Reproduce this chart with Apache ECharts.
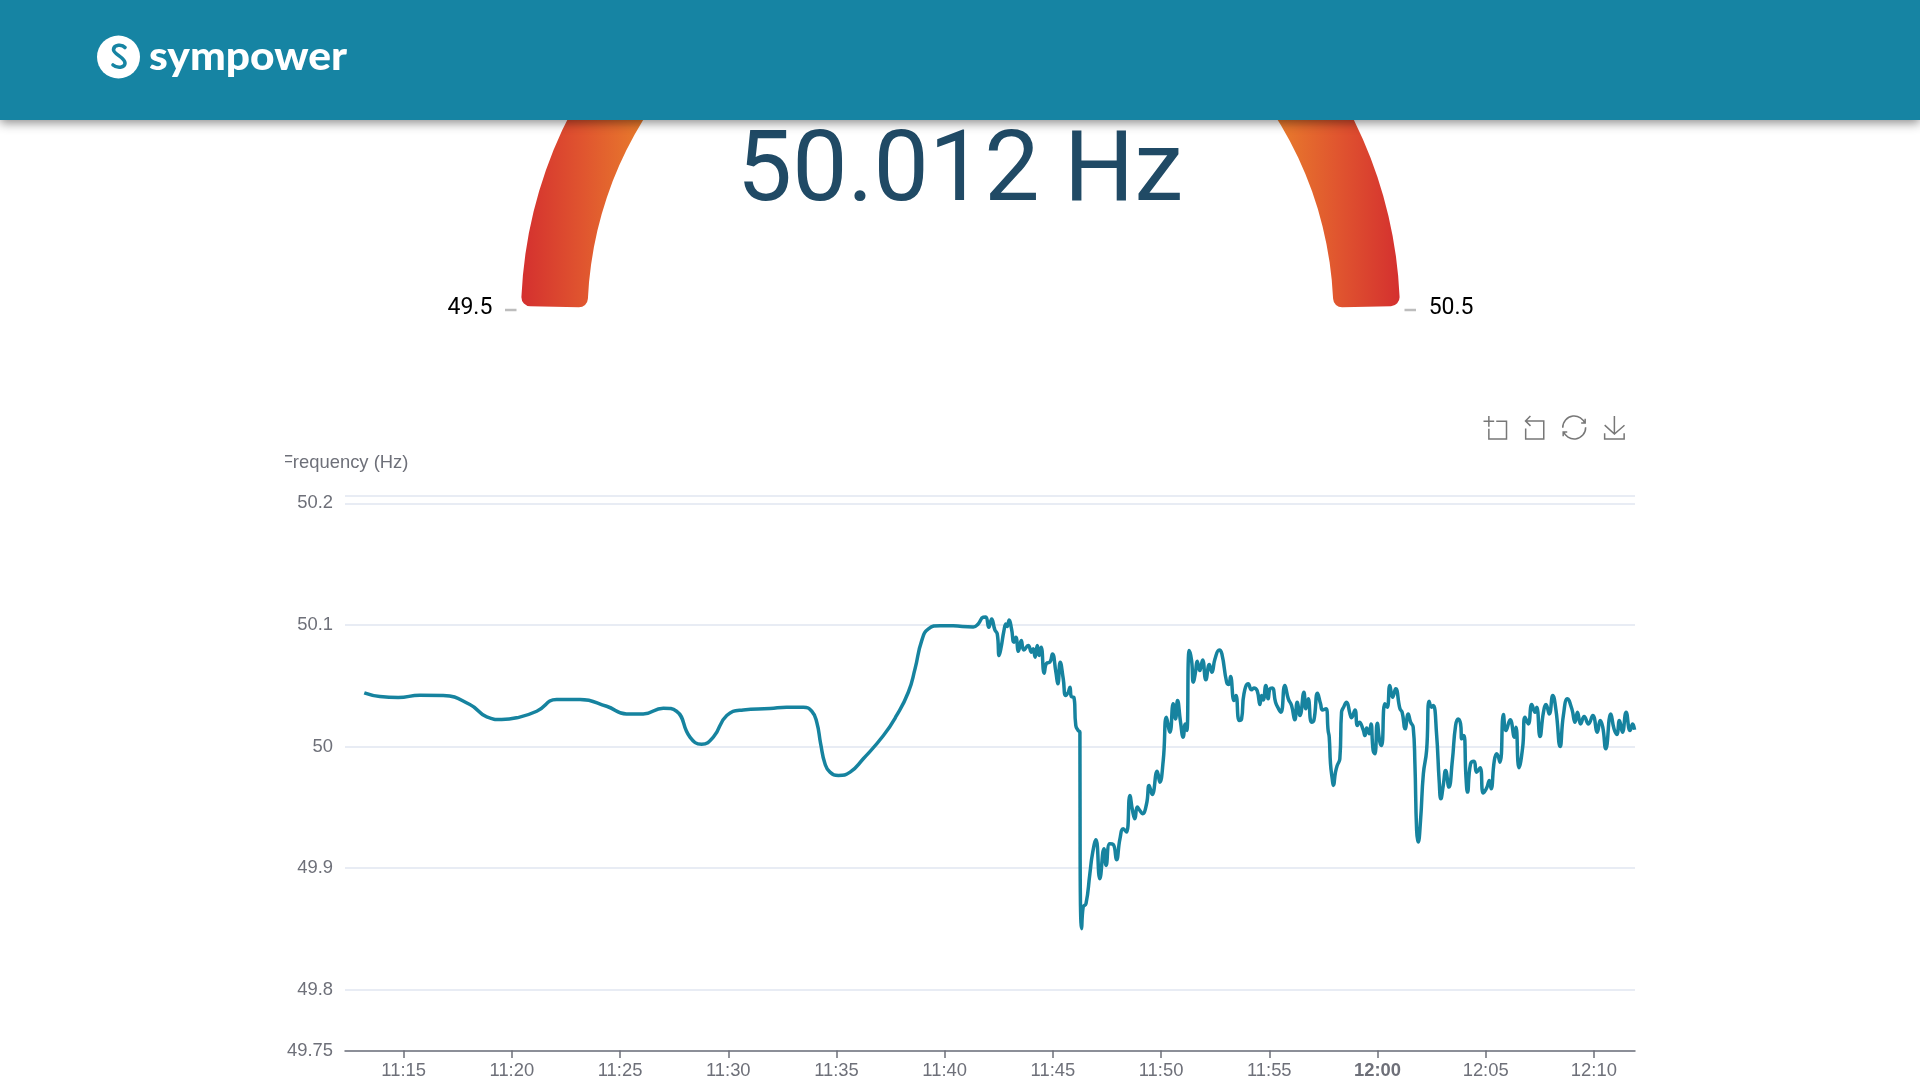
<!DOCTYPE html>
<html>
<head>
<meta charset="utf-8">
<title>sympower frequency</title>
<script src="https://cdn.jsdelivr.net/npm/echarts@6/dist/echarts.min.js"></script>
<style>
html,body{margin:0;padding:0;width:1920px;height:1080px;background:#fff;overflow:hidden}
#header{position:absolute;left:0;top:0;width:1920px;height:120px;background:#1684a3;box-shadow:0 3px 10px rgba(0,0,0,.45);z-index:5}
#logo{position:absolute;left:90px;top:30px}
#gauge{position:absolute;left:0;top:0;width:1920px;height:400px}
#line{position:absolute;left:285px;top:400px;width:1370px;height:680px}
</style>
</head>
<body>
<div id="header">
<svg id="logo" width="280" height="60" viewBox="0 0 280 60">
<circle cx="28.5" cy="27" r="21.5" fill="#fff"/>
<path d="M35 17.5c-3-3.500-11-3-11.500 2 -.4 4.500 11.500 8 11.500 13.500 0 5-8 5.500-12 2" fill="none" stroke="#1684a3" stroke-width="3.600" stroke-linecap="round"/>
<text x="59" y="39.500" font-family="Lato" font-weight="900" font-size="40" fill="#fff" textLength="198" lengthAdjust="spacingAndGlyphs">sympower</text>
</svg>
</div>
<div id="gauge"></div>
<div id="line"></div>
<script>
const currentFrequency = 50.012;
const gaugeMin = 49.5;
const gaugeMax = 50.5;

// minutes after 11:00
const minutes = [
13.18,13.90,14.75,15.75,16.83,18.06,18.84,19.53,20.22,21.15,22.07,23.15,24.38,25.30,26.07,27.00,27.61,28.23,28.77,29.31,29.93,30.69,
31.93,32.70,33.47,33.86,34.09,34.27,34.47,34.70,35.09,35.63,36.24,37.17,37.78,38.32,38.63,38.94,39.25,39.79,
40.39,41.32,41.55,41.78,41.90,42.04,42.17,42.32,42.43,42.52,42.61,42.74,42.83,42.89,42.98,43.09,43.20,43.29,43.41,43.54,43.66,43.86,44.01,44.09,44.18,44.28,44.37,44.46,44.60,44.71,44.86,44.98,45.14,45.23,45.34,45.48,45.59,45.71,45.79,45.85,45.97,46.06,46.17,46.25,46.26,46.33,46.40,46.53,46.71,46.83,46.99,47.17,47.36,47.46,47.63,47.79,47.94,48.10,48.25,48.40,48.56,48.68,48.79,48.90,49.02,49.14,49.33,49.45,49.59,49.82,49.94,50.10,50.25,50.41,50.56,50.67,50.76,50.90,51.02,51.12,51.19,
51.30,51.41,51.49,51.59,51.67,51.79,51.92,52.07,52.23,52.35,52.49,52.69,52.81,53.03,53.13,53.21,53.37,53.46,53.61,53.72,53.83,54.03,54.18,54.29,54.44,54.57,54.64,54.72,54.84,54.95,55.03,55.14,55.29,55.43,55.54,55.72,55.88,56.03,56.18,56.29,56.42,56.60,56.69,56.80,56.95,57.06,57.23,57.37,57.46,57.62,57.72,
57.77,57.83,57.91,57.96,58.06,58.14,58.26,58.34,58.42,58.57,58.73,58.80,58.96,59.07,59.16,59.34,59.42,59.50,59.62,59.70,59.80,59.88,59.99,60.11,60.19,60.34,60.45,60.57,60.70,60.84,61.04,61.14,61.28,61.42,61.53,61.65,61.73,61.81,61.88,61.99,62.12,62.27,62.39,62.50,62.58,62.73,62.85,62.93,63.04,63.15,63.30,63.46,63.61,63.73,63.84,63.90,63.99,64.09,64.16,64.30,64.46,64.58,
64.74,64.89,65.05,65.17,65.25,65.40,65.51,65.66,65.82,65.94,66.13,66.33,66.40,66.54,66.71,66.82,66.97,67.13,67.28,67.36,67.51,67.67,67.79,67.94,68.10,68.25,68.44,68.59,68.78,68.98,69.13,69.24,69.39,69.55,69.75,69.95,70.16,70.29,70.41,70.55,70.78,70.93,71.06,71.18,71.32,71.49,71.67,71.79,71.88
];

const frequency = [
50.0441,50.0411,50.0403,50.0422,50.0419,50.0345,50.0244,50.0222,50.0236,50.0290,50.0386,50.0386,50.0331,50.0268,50.0268,50.0315,50.0290,50.0077,50.0019,50.0077,50.0255,50.0301,
50.0312,50.0323,50.0323,50.0290,50.0200,50.0022,49.9858,49.9789,49.9762,49.9789,49.9899,50.0090,50.0255,50.0446,50.0638,50.0871,50.0967,50.0994,
50.0992,50.0983,50.1008,50.1063,50.1065,50.0981,50.1049,50.0959,50.0926,50.0748,50.0816,50.0953,50.1008,50.0986,50.1041,50.0967,50.0857,50.0898,50.0783,50.0871,50.0794,50.0830,50.0775,50.0803,50.0734,50.0830,50.0748,50.0816,50.0603,50.0685,50.0693,50.0761,50.0611,50.0515,50.0693,50.0556,50.0419,50.0446,50.0488,50.0411,50.0405,50.0173,50.0131,50.0118,49.9091,49.8502,49.8680,49.8707,49.8954,49.9118,49.9233,49.8913,49.9159,49.9022,49.9200,49.9195,49.9069,49.9241,49.9323,49.9296,49.9597,49.9474,49.9406,49.9502,49.9474,49.9447,49.9529,49.9680,49.9606,49.9797,49.9707,49.9885,50.0241,50.0118,50.0351,50.0227,50.0378,50.0200,50.0077,50.0186,50.0131,
50.0789,50.0707,50.0529,50.0611,50.0701,50.0624,50.0712,50.0548,50.0674,50.0611,50.0720,50.0794,50.0761,50.0529,50.0509,50.0575,50.0378,50.0419,50.0214,50.0227,50.0433,50.0515,50.0466,50.0482,50.0460,50.0345,50.0419,50.0383,50.0501,50.0392,50.0474,50.0482,50.0364,50.0310,50.0282,50.0501,50.0392,50.0337,50.0219,50.0364,50.0255,50.0446,50.0310,50.0392,50.0200,50.0214,50.0438,50.0351,50.0301,50.0310,50.0131,
50.0077,49.9858,49.9734,49.9680,49.9789,49.9844,49.9899,50.0282,50.0318,50.0364,50.0268,50.0236,50.0301,50.0173,50.0200,50.0137,50.0090,50.0153,50.0104,50.0186,49.9967,49.9940,50.0192,50.0036,50.0008,50.0351,50.0323,50.0501,50.0405,50.0474,50.0310,50.0282,50.0145,50.0268,50.0200,50.0159,49.9858,49.9310,49.9214,49.9392,49.9775,49.9967,50.0373,50.0323,50.0337,50.0104,49.9721,49.9570,49.9680,49.9803,49.9666,49.9885,50.0173,50.0227,50.0186,50.0063,50.0090,49.9748,49.9625,49.9858,49.9879,49.9789,
49.9825,49.9617,49.9660,49.9721,49.9652,49.9885,49.9940,49.9871,50.0263,50.0131,50.0219,50.0077,50.0159,49.9825,49.9995,50.0241,50.0186,50.0345,50.0282,50.0323,50.0082,50.0282,50.0345,50.0268,50.0419,50.0296,50.0000,50.0255,50.0392,50.0310,50.0200,50.0282,50.0186,50.0247,50.0186,50.0255,50.0118,50.0214,50.0159,49.9981,50.0268,50.0145,50.0099,50.0214,50.0118,50.0282,50.0131,50.0186,50.0137
];

const yMin = 49.75;
const yMax = 50.206;
const xStartMinute = 12.29;
const xEndMinute = 71.9;

const base = new Date(2023, 0, 1, 11, 0, 0).getTime();
const toTime = m => base + m * 60000;
const seriesData = minutes.map((m, i) => [toTime(m), frequency[i]]);

const gaugeChart = echarts.init(document.getElementById('gauge'));
gaugeChart.setOption({
  animation: false,
  series: [
    {
      type: 'pie', silent: true, center: [960.5, 316], radius: [373, 439.5],
      startAngle: 178.7, clockwise: true, label: {show: false}, labelLine: {show: false},
      itemStyle: {borderRadius: 9},
      emphasis: {disabled: true},
      data: [
        {value: 177.4, itemStyle: {color: new echarts.graphic.LinearGradient(0, 0, 1, 0, [
          {offset: 0, color: '#d4302f'}, {offset: 0.07, color: '#e0552f'}, {offset: 0.14, color: '#e87c2c'},
          {offset: 0.5, color: '#f0b030'},
          {offset: 0.86, color: '#e87c2c'}, {offset: 0.93, color: '#e0552f'}, {offset: 1, color: '#d4302f'}
        ])}},
        {value: 182.6, itemStyle: {color: 'rgba(0,0,0,0)'}}
      ]
    },
    {
      type: 'gauge', center: [960.5, 308.5], radius: 513, min: gaugeMin, max: gaugeMax, splitNumber: 1,
      startAngle: 180, endAngle: 0,
      axisLine: {show: false, lineStyle: {width: 0}},
      pointer: {show: false}, axisTick: {show: false},
      splitLine: {show: false, length: 0, distance: 0},
      axisLabel: {distance: 0, color: '#000', fontFamily: 'Roboto', fontSize: 23},
      title: {show: false},
      detail: {offsetCenter: [-0.5, -133], formatter: '{value} Hz', color: '#204a65', fontFamily: 'Roboto', fontSize: 98.5, fontWeight: 400},
      data: [{value: currentFrequency}]
    },
    {
      type: 'gauge', center: [960.5, 310], radius: 455.5, min: gaugeMin, max: gaugeMax, splitNumber: 1,
      startAngle: 180, endAngle: 0,
      axisLine: {show: false, lineStyle: {width: 0}},
      pointer: {show: false}, axisTick: {show: false},
      splitLine: {length: 11.5, distance: 0, lineStyle: {color: '#bdbdbd', width: 2.5}},
      axisLabel: {show: false}, title: {show: false}, detail: {show: false},
      data: [{value: currentFrequency}]
    }
  ]
});

const lineChart = echarts.init(document.getElementById('line'));
lineChart.setOption({
  animation: false,
  toolbox: {
    right: 13, top: -1.5, itemSize: 23, itemGap: 14,
    iconStyle: {borderWidth: 1.5, borderColor: '#777'},
    feature: {dataZoom: {yAxisIndex: 'none'}, restore: {}, saveAsImage: {}}
  },
  grid: {left: 60, right: 20, top: 96, bottom: 29.5, outerBoundsMode: 'none'},
  xAxis: {
    type: 'time',
    min: toTime(xStartMinute), max: toTime(xEndMinute),
    splitNumber: 11,
    axisLine: {lineStyle: {color: '#6e7079', width: 1.5}},
    axisTick: {length: 7.5, lineStyle: {width: 1.5}},
    splitLine: {show: false},
    axisLabel: {
      fontSize: 18.4, margin: 11, color: '#6e7079',
      showMinLabel: false, showMaxLabel: false,
      formatter: {hour: '{b|{HH}:{mm}}', minute: '{HH}:{mm}'},
      rich: {b: {fontWeight: 'bold', fontSize: 18.4, color: '#6e7079'}}
    }
  },
  yAxis: {
    type: 'value', min: yMin, max: yMax,
    name: 'Frequency (Hz)', nameGap: 24, nameTextStyle: {fontSize: 18.4, color: '#6e7079'},
    axisLabel: {fontSize: 18.4, margin: 12, color: '#6e7079', showMaxLabel: false, padding: [0, 0, 4, 0]},
    splitLine: {lineStyle: {color: '#e0e6f1', width: 1.5}}
  },
  series: [{
    type: 'line', data: seriesData, showSymbol: false, smooth: 0.5,
    lineStyle: {color: '#16839f', width: 3.5}, itemStyle: {color: '#16839f'}
  }]
});
</script>
</body>
</html>
